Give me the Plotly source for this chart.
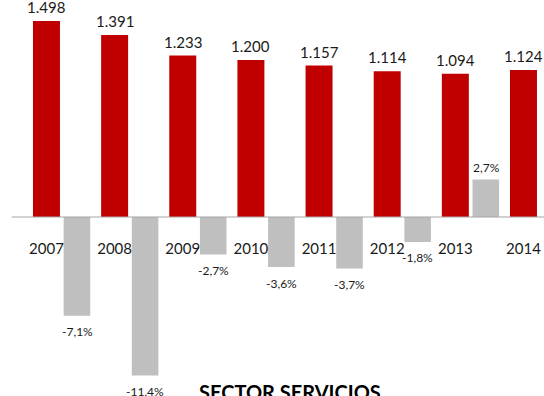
import plotly.graph_objects as go

years = [2007, 2008, 2009, 2010, 2011, 2012, 2013, 2014]
afiliados = [1498, 1391, 1233, 1200, 1157, 1114, 1094, 1124]
# variacion interanual respecto al año siguiente
var_years = [2007, 2008, 2009, 2010, 2011, 2012, 2013]
variacion = [-7.1, -11.4, -2.7, -3.6, -3.7, -1.8, 2.7]

RED = "#C00000"
GRAY = "#BFBFBF"
FONT = "Lato, 'Open Sans', sans-serif"

fig = go.Figure()
fig.add_trace(go.Bar(
    x=years, y=afiliados, yaxis="y",
    width=0.396, offset=-0.198,
    marker=dict(color=RED, line=dict(width=0)),
    hoverinfo="skip",
))
fig.add_trace(go.Bar(
    x=var_years, y=variacion, yaxis="y2",
    width=0.39, offset=0.252,
    marker=dict(color=GRAY, line=dict(width=0)),
    hoverinfo="skip",
))

annotations = []
for yr, v in zip(years, afiliados):
    annotations.append(dict(
        x=yr, y=v, xref="x", yref="y", yshift=14,
        text=f"{v:,}".replace(",", "."), showarrow=False,
        font=dict(size=15, color="#1a1a1a", family=FONT),
    ))
for yr, p in zip(var_years, variacion):
    annotations.append(dict(
        x=yr + 0.45, y=p, xref="x", yref="y2",
        yshift=-16 if p < 0 else 12,
        text=f"{p:.1f}%".replace(".", ","), showarrow=False,
        font=dict(size=12, color="#1a1a1a", family=FONT),
    ))
annotations.append(dict(
    x=0.533, y=4 / 396, xref="paper", yref="paper", yanchor="middle",
    text="<b>SECTOR SERVICIOS</b>", showarrow=False,
    font=dict(size=20, color="#000000", family=FONT),
))

fig.update_layout(
    width=544, height=396,
    margin=dict(l=0, r=0, t=0, b=0),
    paper_bgcolor="white", plot_bgcolor="white",
    showlegend=False,
    barmode="overlay",
    font=dict(family=FONT),
    xaxis=dict(
        range=[2006.318, 2014.301],
        tickvals=years, ticktext=[str(y) for y in years],
        tickfont=dict(size=15, color="#1a1a1a"),
        showgrid=False, zeroline=False,
        showline=False, ticks="",
        anchor="free", position=(396 - 238) / 396,
    ),
    yaxis=dict(range=[-1368, 1658], visible=False, showgrid=False, zeroline=False),
    yaxis2=dict(range=[-12.88, 15.61], overlaying="y", visible=False,
                showgrid=False, zeroline=False),
    shapes=[dict(
        type="line", xref="x", yref="y", x0=2006.49, x1=2014.301, y0=0, y1=0,
        line=dict(color="#A6A6A6", width=1.2), layer="above",
    )],
    annotations=annotations,
)

fig.write_html(
    "out.html",
    config={"displayModeBar": False},
    post_script="document.body.style.margin = '0px';",
)
